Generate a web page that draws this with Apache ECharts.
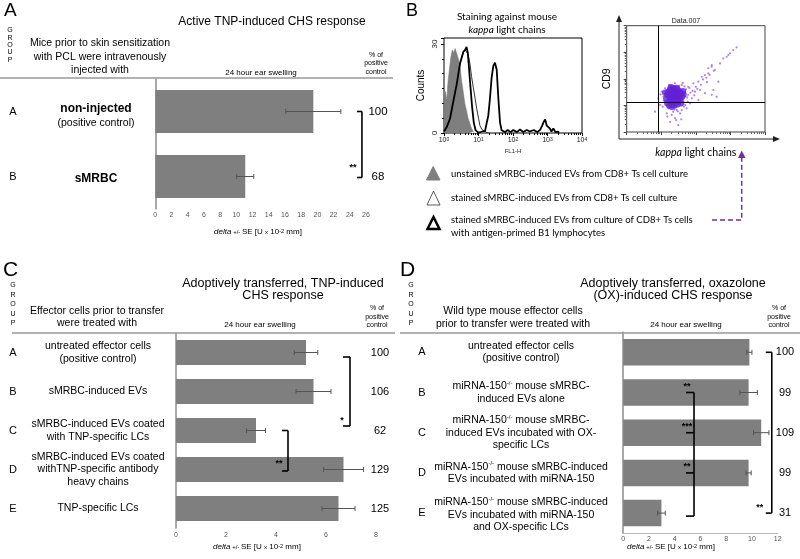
<!DOCTYPE html>
<html><head><meta charset="utf-8">
<script src="https://cdn.jsdelivr.net/npm/echarts@6/dist/echarts.min.js"></script>
<style>html,body{margin:0;padding:0;background:#fff}#c{width:800px;height:559px}</style>
</head><body><div id="c"></div>
<script>
// ================= DATA =================
// Panel A
const groupsA = ['A', 'B'];
const labelsA = ['{b|non-injected}\n{n|(positive control)}', '{b|sMRBC}'];
const swellingA = [19.5, 11.1];
const seA = [3.4, 1.05];
const pctA = [100, 68];
const sigA = [{from: 0, to: 1, stars: '**'}];

// Panel C
const groupsC = ['A', 'B', 'C', 'D', 'E'];
const labelsC = [
  'untreated effector cells\n(positive control)',
  'sMRBC-induced EVs',
  'sMRBC-induced EVs coated\nwith TNP-specific LCs',
  'sMRBC-induced EVs coated\nwithTNP-specific antibody\nheavy chains',
  'TNP-specific LCs'
];
const swellingC = [5.2, 5.5, 3.2, 6.7, 6.5];
const seC = [0.47, 0.7, 0.38, 0.8, 0.66];
const pctC = [100, 106, 62, 129, 125];
const sigC = [{from: 0, to: 2, stars: '*'}, {from: 2, to: 3, stars: '**'}];

// Panel D
const groupsD = ['A', 'B', 'C', 'D', 'E'];
const labelsD = [
  '{n|untreated effector cells}\n{n|(positive control)}',
  '{n|miRNA-150}{s|-/-}{n| mouse sMRBC-}\n{n|induced EVs alone}',
  '{n|miRNA-150}{s|-/-}{n| mouse sMRBC-}\n{n|induced EVs incubated with OX-}\n{n|specific LCs}',
  '{n|miRNA-150}{s|-/-}{n| mouse sMRBC-induced}\n{n|EVs incubated with miRNA-150}',
  '{n|miRNA-150}{s|-/-}{n| mouse sMRBC-induced}\n{n|EVs incubated with miRNA-150}\n{n|and OX-specific LCs}'
];
const swellingD = [9.8, 9.74, 10.72, 9.74, 2.97];
const seD = [0.2, 0.68, 0.6, 0.2, 0.3];
const pctD = [100, 99, 109, 99, 31];
const sigD = [{from: 0, to: 4, stars: '**'}];
const sigDvsE = {to: 4, from: [1, 2, 3], stars: ['**', '***', '**']};

// Panel B histogram: [FL1-H, counts]
const histStained = [[1,1],[1.2,2.5],[1.49,4.8],[1.86,10.6],[2.33,16.4],[2.9,23.3],[3.63,27.3],[4.1,28],[4.5,28.5],[5.0,26.5],[5.66,23.3],[6.3,19],[7.1,15.2],[8.0,11.5],[8.85,8.3],[10,5],[11,2.5],[12.5,1.2],[13.8,0.8],[16,0.3],[20,0]];
const histUnstained = [[1,0],[1.01,10],[1.1,14],[1.2,11],[1.3,17],[1.45,22],[1.6,26],[1.75,28],[1.9,27],[2.1,28.5],[2.3,27],[2.6,25],[2.9,23],[3.2,18],[3.6,14],[4.0,10],[4.5,7.5],[5.0,5],[5.7,3],[6.3,1.5],[7.1,0.5],[7.5,0]];
const histB1 = [[1,0.5],[1.2,2],[1.49,4.8],[1.86,10.6],[2.33,16.4],[2.9,23.3],[3.63,27.3],[4.1,28],[4.5,29],[4.9,27],[5.3,22],[5.8,16],[6.5,9],[7.3,3.5],[8.2,1],[9.5,0.3],[11,0.2],[13,0.5],[15.4,0.5],[17,3],[19.3,6],[21.5,11.7],[24,18.6],[26.9,22.6],[30,23.7],[33.7,21.3],[37.6,11.7],[42,3.6],[46.8,0.9],[52,0.5],[58.6,0.3],[70,1],[85,0.3],[102,1],[130,0.3],[160,1.2],[200,0.3],[250,1],[310,0.5],[400,1],[500,0.3],[605,1],[700,2.5],[760,3.5],[850,4.6],[950,2.5],[1050,3],[1180,1.5],[1300,0.5],[1480,1.5],[1700,0.3],[2050,0.5],[2100,0]];

// Panel B dot plot: [kappa, CD9]
const dotsCore = [[14,18],[15,12],[15,26],[16,33],[17,10],[17,20],[18,14],[18,40],[19,25],[20,9],[20,17],[20,30],[21,45],[22,12],[22,22],[23,35],[24,10],[24,16],[24,28],[25,42],[26,20],[27,13],[27,32],[28,24],[29,17],[30,11],[30,38],[31,28],[32,21],[33,15],[34,33],[35,24],[36,18],[38,28],[40,21],[42,34],[13,30],[19,48],[28,45],[44,26],[37,12]];
const dotsEvents = [[60,50],[85,68],[118,78],[148,120],[183,139],[229,162],[288,331],[357,215],[94,33],[132,38],[183,29],[288,25],[319,38],[76,18.5],[118,16],[620,590],[780,680],[870,790],[975,910],[1210,1210],[1510,1540],[288,288],[229,250],[447,78],[400,21],[49,10.4],[54,7.8],
  [20,4.4],[25,3.3],[18,2.4],[31,1.8],[22,5.8],[14.4,5.0],[35,5.0],[28,6.7],[16,7.8],[6.6,5.8],[8.2,18.5],[10.3,33],[9.2,10.4],[11.5,21],[12.8,44],[39,59],[25,68],[18,50],[49,33],[44,13.8],[60,25],[68,12],[39,6.7],[20,10.4],
  [52,40],[65,45],[70,30],[56,20],[47,52],[33,55],[12,15],[11,9],[24,7],[30,6],[45,9],[58,14],[80,35],[100,50],[110,42],[160,95],[200,110],[250,140],[330,200],[500,380],[38,3],[27,2.8],[15,3.8],[42,70],[90,24],[140,60],[210,75],[17,60],[9.5,26],[26,8.5]];
const quadrantGate = [8.2, 13.1];

// ================= STYLE / LAYOUT =================
const ARIAL = '"Liberation Sans", Arial, sans-serif';
const CALI = 'Lato, "Open Sans", sans-serif';
const BAR = '#7f7f7f';

function T(x, y, text, o) {
  return {type: 'text', x: x, y: y, silent: true, z: 50,
    style: Object.assign({text: text, fill: '#000', fontFamily: ARIAL, fontSize: 10, align: 'center', verticalAlign: 'middle'}, o || {})};
}
function L(x1, y1, x2, y2, o) {
  return {type: 'line', silent: true, z: 50, shape: {x1, y1, x2, y2}, style: Object.assign({stroke: '#000', lineWidth: 1}, o || {})};
}
const deltaRich = {
  i: {fontStyle: 'italic', fontSize: 8, fontFamily: ARIAL},
  s: {fontSize: 6, fontFamily: ARIAL},
  n: {fontSize: 8, fontFamily: ARIAL},
  p: {fontSize: 5.5, fontFamily: ARIAL, verticalAlign: 'top'}
};
const deltaText = '{i|delta}{s| +/- }{n|SE [U }{s|x}{n| 10}{p|-2}{n| mm]}';

function errSeries(xi, yi, vals, se) {
  return {type: 'custom', xAxisIndex: xi, yAxisIndex: yi, silent: true, clip: false, z: 5,
    data: vals.map((v, i) => [v - se[i], v + se[i], i]), encode: {x: [0, 1], y: 2},
    renderItem(params, api) {
      const i = params.dataIndex;
      const a = api.coord([api.value(0), i]), b = api.coord([api.value(1), i]);
      const h = 2.5, st = {stroke: '#555', lineWidth: 1};
      return {type: 'group', children: [
        {type: 'line', shape: {x1: a[0], y1: a[1], x2: b[0], y2: b[1]}, style: st},
        {type: 'line', shape: {x1: a[0], y1: a[1] - h, x2: a[0], y2: a[1] + h}, style: st},
        {type: 'line', shape: {x1: b[0], y1: b[1] - h, x2: b[0], y2: b[1] + h}, style: st}
      ]};
    }};
}

function labelSeries(xi, yi, groups, labels, pct, lay) {
  return {type: 'custom', xAxisIndex: xi, yAxisIndex: yi, silent: true, clip: false, z: 6,
    data: groups.map((g, i) => [0, i]),
    renderItem(params, api) {
      const i = params.dataIndex;
      const y = api.coord([0, i])[1];
      return {type: 'group', children: [
        {type: 'text', x: lay.letterX, y: y, style: {text: groups[i], fill: '#000', fontFamily: ARIAL, fontSize: 11, align: 'center', verticalAlign: 'middle'}},
        {type: 'text', x: lay.labelX, y: y + (lay.labelDy ? lay.labelDy[i] : 0), style: {text: labels[i], fill: '#000', fontFamily: ARIAL, fontSize: lay.fs, lineHeight: lay.lh, align: 'center', verticalAlign: 'middle', rich: lay.rich}},
        {type: 'text', x: lay.pctX, y: y, style: {text: String(pct[i]), fill: '#000', fontFamily: ARIAL, fontSize: lay.pfs, align: 'center', verticalAlign: 'middle'}}
      ]};
    }};
}

// bracket: vertical line at axis value bx between category centres, ticks to the left
function bracketSeries(xi, yi, sig, lay) {
  return {type: 'custom', xAxisIndex: xi, yAxisIndex: yi, silent: true, clip: false, z: 7,
    data: sig.map((s, k) => [0, k]),
    renderItem(params, api) {
      const s = sig[params.dataIndex], l = lay[params.dataIndex];
      const top = api.coord([l.bx, s.from]), bot = api.coord([l.bx, s.to]);
      const x = top[0], y1 = top[1] + l.d1, y2 = bot[1] + l.d2;
      const st = {stroke: '#000', lineWidth: 1.6};
      return {type: 'group', children: [
        {type: 'line', shape: {x1: x, y1: y1, x2: x, y2: y2}, style: st},
        {type: 'line', shape: {x1: x - l.tick, y1: y1, x2: x, y2: y1}, style: st},
        {type: 'line', shape: {x1: x - l.tick, y1: y2, x2: x, y2: y2}, style: st},
        {type: 'text', x: x + l.sdx, y: y2 + l.sdy, style: {text: s.stars, fill: '#000', fontFamily: ARIAL, fontSize: 9, fontWeight: 'bold', align: 'center', verticalAlign: 'middle'}}
      ]};
    }};
}

function multiBracketSeries(xi, yi, sig, l) {
  return {type: 'custom', xAxisIndex: xi, yAxisIndex: yi, silent: true, clip: false, z: 7,
    data: [[0, 0]],
    renderItem(params, api) {
      const st = {stroke: '#000', lineWidth: 1.6};
      const ys = sig.from.map(f => api.coord([l.bx, f])[1]);
      const end = api.coord([l.bx, sig.to]);
      const x = end[0], yEnd = end[1] + l.dEnd;
      const ch = [{type: 'line', shape: {x1: x, y1: ys[0], x2: x, y2: yEnd}, style: st},
                  {type: 'line', shape: {x1: x - l.tick, y1: yEnd, x2: x, y2: yEnd}, style: st}];
      ys.forEach((y, k) => {
        ch.push({type: 'line', shape: {x1: x - l.tick, y1: y, x2: x, y2: y}, style: st});
        ch.push({type: 'text', x: x + l.sdx, y: y + l.sdy, style: {text: sig.stars[k], fill: '#000', fontFamily: ARIAL, fontSize: 9, fontWeight: 'bold', align: 'center', verticalAlign: 'middle'}});
      });
      return {type: 'group', children: ch};
    }};
}

const tickLabel = (m) => ({fontSize: 7, color: '#555', fontFamily: ARIAL, margin: m});
function barAxisX(grid, max, margin, line) {
  return {type: 'value', gridIndex: grid, min: 0, max: max, interval: 2,
    axisLine: {show: !!line, lineStyle: {color: '#bbb'}}, axisTick: {show: false},
    splitLine: {show: false}, axisLabel: tickLabel(margin)};
}
function barAxisY(grid, cats) {
  return {type: 'category', gridIndex: grid, data: cats, inverse: true,
    axisLine: {lineStyle: {color: '#8c8c8c', width: 1.5}}, axisTick: {show: false}, axisLabel: {show: false}};
}

const logLabel = v => '{b|10}{s|' + Math.round(Math.log10(v)) + '}';

const option = {
  animation: false,
  backgroundColor: '#fff',
  grid: [
    {left: 155.3, top: 79, width: 210.7, height: 130},
    {left: 176, top: 333, width: 200, height: 195},
    {left: 623.2, top: 332.2, width: 154.5, height: 201},
    {left: 444, top: 38, width: 138, height: 95, show: true, borderColor: '#000', borderWidth: 1},
    {left: 626.7, top: 25.7, width: 138.3, height: 106.3, show: true, borderColor: '#444', borderWidth: 1}
  ],
  xAxis: [
    barAxisX(0, 26, 3, false),
    barAxisX(1, 8, 4, false),
    barAxisX(2, 12, 2, true),
    {type: 'log', gridIndex: 3, min: 1, max: 10000, logBase: 10,
      axisLine: {show: false}, axisTick: {length: 3, lineStyle: {color: '#000'}},
      minorTick: {show: true, splitNumber: 9, length: 2, lineStyle: {color: '#000'}},
      splitLine: {show: false},
      axisLabel: {formatter: logLabel, margin: 4, color: '#222',
        rich: {b: {fontSize: 7, fontFamily: ARIAL, color: '#222'}, s: {fontSize: 5, fontFamily: ARIAL, color: '#222', verticalAlign: 'top'}}},
      name: 'FL1-H', nameLocation: 'middle', nameGap: 15, nameTextStyle: {fontSize: 6, fontFamily: ARIAL, color: '#222'}},
    {type: 'log', gridIndex: 4, min: 1, max: 10000, logBase: 10,
      axisLine: {show: false}, axisTick: {length: 3, lineStyle: {color: '#444'}},
      minorTick: {show: true, splitNumber: 9, length: 2, lineStyle: {color: '#666'}},
      splitLine: {show: false}, axisLabel: {show: false},
      name: '{i|kappa}{n| light chains}', nameLocation: 'middle', nameGap: 15,
      nameTextStyle: {rich: {i: {fontStyle: 'italic', fontSize: 10.5, fontFamily: CALI, color: '#000'}, n: {fontSize: 10.5, fontFamily: CALI, color: '#000'}}}}
  ],
  yAxis: [
    barAxisY(0, groupsA),
    barAxisY(1, groupsC),
    barAxisY(2, groupsD),
    {type: 'value', gridIndex: 3, min: 0, max: 32, interval: 30,
      axisLine: {show: false}, axisTick: {length: 3, lineStyle: {color: '#000'}},
      minorTick: {show: true, splitNumber: 6, length: 2, lineStyle: {color: '#000'}},
      splitLine: {show: false},
      axisLabel: {rotate: 90, fontSize: 8, fontFamily: ARIAL, color: '#222', margin: 5, showMaxLabel: false},
      name: 'Counts', nameLocation: 'middle', nameGap: 18, nameRotate: 90,
      nameTextStyle: {fontSize: 10, fontFamily: ARIAL, color: '#000'}},
    {type: 'log', gridIndex: 4, min: 1, max: 10000, logBase: 10,
      axisLine: {show: false}, axisTick: {length: 3, lineStyle: {color: '#444'}},
      minorTick: {show: true, splitNumber: 9, length: 2, lineStyle: {color: '#666'}},
      splitLine: {show: false}, axisLabel: {show: false},
      name: 'CD9', nameLocation: 'middle', nameGap: 14, nameRotate: 90,
      nameTextStyle: {fontSize: 10.5, fontFamily: ARIAL, color: '#000'}}
  ],
  series: [
    // Panel A
    {type: 'bar', xAxisIndex: 0, yAxisIndex: 0, data: swellingA, barWidth: 43, itemStyle: {color: BAR}, silent: true},
    errSeries(0, 0, swellingA, seA),
    labelSeries(0, 0, groupsA, labelsA, pctA, {letterX: 13, labelX: 96, pctX: 378, fs: 10.5, lh: 14, pfs: 11.5,
      labelDy: [4, 2],
      rich: {b: {fontWeight: 'bold', fontSize: 12, fontFamily: ARIAL, lineHeight: 15}, n: {fontSize: 10.5, fontFamily: ARIAL, lineHeight: 14}}}),
    bracketSeries(0, 0, sigA, [{bx: 25.5, tick: 5, d1: 0, d2: 1, sdx: -9, sdy: -10}]),
    // Panel C
    {type: 'bar', xAxisIndex: 1, yAxisIndex: 1, data: swellingC, barWidth: 25, itemStyle: {color: BAR}, silent: true},
    errSeries(1, 1, swellingC, seC),
    labelSeries(1, 1, groupsC, labelsC, pctC, {letterX: 13, labelX: 98, pctX: 380, fs: 10.5, lh: 12.5, pfs: 11}),
    bracketSeries(1, 1, sigC, [
      {bx: 6.96, tick: 7, d1: 4.5, d2: -4.5, sdx: -8, sdy: -5},
      {bx: 4.48, tick: 6, d1: 0, d2: 1.5, sdx: -9, sdy: -7}]),
    // Panel D
    {type: 'bar', xAxisIndex: 2, yAxisIndex: 2, data: swellingD, barWidth: 26.5, itemStyle: {color: BAR}, silent: true},
    errSeries(2, 2, swellingD, seD),
    labelSeries(2, 2, groupsD, labelsD, pctD, {letterX: 422, labelX: 521, pctX: 785, fs: 10.5, lh: 12.5, pfs: 11,
      labelDy: [0, 0, 0, 0, 2],
      rich: {n: {fontSize: 10.5, fontFamily: ARIAL, lineHeight: 12.5}, s: {fontSize: 6, fontFamily: ARIAL, lineHeight: 12.5, verticalAlign: 'top'}}}),
    bracketSeries(2, 2, sigD, [{bx: 11.54, tick: 6, d1: 0, d2: 0, sdx: -12, sdy: -6}]),
    multiBracketSeries(2, 2, sigDvsE, {bx: 5.5, tick: 8, dEnd: 3, sdx: -7, sdy: -6}),
    // Panel B histogram
    {type: 'line', xAxisIndex: 3, yAxisIndex: 3, data: histStained, symbol: 'none', z: 2, silent: true,
      lineStyle: {color: '#333', width: 1}, areaStyle: {color: '#fff', opacity: 1}},
    {type: 'line', xAxisIndex: 3, yAxisIndex: 3, data: histUnstained, symbol: 'none', z: 3, silent: true,
      lineStyle: {color: '#777', width: 0.5}, areaStyle: {color: '#7f7f7f', opacity: 1}},
    {type: 'line', xAxisIndex: 3, yAxisIndex: 3, data: histB1, symbol: 'none', z: 4, silent: true,
      lineStyle: {color: '#000', width: 1.8}},
    // Panel B dot plot
    {type: 'scatter', xAxisIndex: 4, yAxisIndex: 4, data: dotsEvents, symbolSize: 2.2, silent: true,
      itemStyle: {color: '#9a66f0'},
      markLine: {silent: true, symbol: 'none', label: {show: false}, lineStyle: {color: '#000', width: 1, type: 'solid'},
        data: [{xAxis: quadrantGate[0]}, {yAxis: quadrantGate[1]}]}},
    {type: 'scatter', xAxisIndex: 4, yAxisIndex: 4, data: dotsCore, symbolSize: 6.5, silent: true,
      itemStyle: {color: '#6420d8'}}
  ],
  graphic: [
    // Panel A header
    T(4, 11, 'A', {fontSize: 19, align: 'left'}),
    T(272, 22, 'Active TNP-induced CHS response', {fontSize: 12}),
    T(10, 45, 'G\nR\nO\nU\nP', {fontSize: 7, lineHeight: 7.3}),
    T(100, 57, 'Mice prior to skin sensitization\nwith PCL were intravenously\ninjected with', {fontSize: 10.5, lineHeight: 13.5}),
    T(261, 72.5, '24 hour ear swelling', {fontSize: 8}),
    T(376, 63.5, '% of\npositive\ncontrol', {fontSize: 7, lineHeight: 8.5}),
    L(0, 78, 393, 78, {stroke: '#999', lineWidth: 1.5}),
    T(258, 232, deltaText, {rich: deltaRich}),
    // Panel C header
    T(3, 270, 'C', {fontSize: 21, align: 'left'}),
    T(283, 289.5, 'Adoptively transferred, TNP-induced\nCHS response', {fontSize: 12.5, lineHeight: 12.5}),
    T(13, 304.5, 'G\nR\nO\nU\nP', {fontSize: 7, lineHeight: 9.5}),
    T(97, 317, 'Effector cells prior to transfer\nwere treated with', {fontSize: 10.5, lineHeight: 12.5}),
    T(260, 325, '24 hour ear swelling', {fontSize: 8}),
    T(377, 317, '% of\npositive\ncontrol', {fontSize: 7, lineHeight: 8.5}),
    L(12, 333, 395, 333, {stroke: '#999', lineWidth: 1.5}),
    T(257, 547, deltaText, {rich: deltaRich}),
    // Panel D header
    T(400, 270, 'D', {fontSize: 21, align: 'left'}),
    T(673, 289.5, 'Adoptively transferred, oxazolone\n(OX)-induced CHS response', {fontSize: 12.5, lineHeight: 12.5}),
    T(411, 304.5, 'G\nR\nO\nU\nP', {fontSize: 7, lineHeight: 9.5}),
    T(513, 317.5, 'Wild type mouse effector cells\nprior to transfer were treated with', {fontSize: 10.5, lineHeight: 12.5}),
    T(686, 325, '24 hour ear swelling', {fontSize: 8}),
    T(779, 317, '% of\npositive\ncontrol', {fontSize: 7, lineHeight: 8.5}),
    L(400, 333, 800, 333, {stroke: '#999', lineWidth: 1.5}),
    T(671, 547, deltaText, {rich: deltaRich}),
    // Panel B
    T(406, 11, 'B', {fontSize: 18, align: 'left'}),
    T(507, 17, 'Staining against mouse', {fontFamily: CALI, fontSize: 10}),
    T(507, 30, '{i|kappa}{n| light chains}', {rich: {i: {fontStyle: 'italic', fontFamily: CALI, fontSize: 10}, n: {fontFamily: CALI, fontSize: 10}}}),
    T(686, 21, 'Data.007', {fontSize: 7, fill: '#222'}),
    // dot-plot axis arrows
    L(619, 139, 619, 19, {stroke: '#222', lineWidth: 1}),
    {type: 'polygon', silent: true, shape: {points: [[616, 22], [622, 22], [619, 15]]}, style: {fill: '#222'}},
    L(619, 139, 776, 139, {stroke: '#222', lineWidth: 1}),
    {type: 'polygon', silent: true, shape: {points: [[773, 136], [773, 142], [780, 139]]}, style: {fill: '#222'}},
    // legend
    {type: 'polygon', silent: true, shape: {points: [[426.5, 180], [440, 180], [433.2, 166.5]]}, style: {fill: '#7f7f7f', stroke: '#7f7f7f'}},
    {type: 'polygon', silent: true, shape: {points: [[427, 205], [440, 205], [433.5, 191]]}, style: {fill: '#fff', stroke: '#333', lineWidth: 0.8}},
    {type: 'polygon', silent: true, shape: {points: [[427.5, 229], [439.5, 229], [433.5, 217]]}, style: {fill: '#fff', stroke: '#000', lineWidth: 2.5}},
    T(451, 173.5, 'unstained sMRBC-induced EVs from CD8+ Ts cell culture', {fontFamily: CALI, fontSize: 9.5, align: 'left'}),
    T(451, 198, 'stained sMRBC-induced EVs from CD8+ Ts cell culture', {fontFamily: CALI, fontSize: 9.5, align: 'left'}),
    T(451, 220, 'stained sMRBC-induced EVs from culture of CD8+ Ts cells', {fontFamily: CALI, fontSize: 9.5, align: 'left'}),
    T(451, 233, 'with antigen-primed B1 lymphocytes', {fontFamily: CALI, fontSize: 9.5, align: 'left'}),
    // dashed purple arrow
    {type: 'polyline', silent: true, shape: {points: [[712, 220], [741.7, 220], [741.7, 157]]}, style: {stroke: '#7030a0', lineWidth: 1.5, lineDash: [5, 3], fill: null}},
    {type: 'polygon', silent: true, shape: {points: [[738, 158], [745.5, 158], [741.7, 150.5]]}, style: {fill: '#7030a0'}}
  ]
};

const chart = echarts.init(document.getElementById('c'), null, {renderer: 'canvas', width: 800, height: 559});
chart.setOption(option);
</script>
</body></html>
